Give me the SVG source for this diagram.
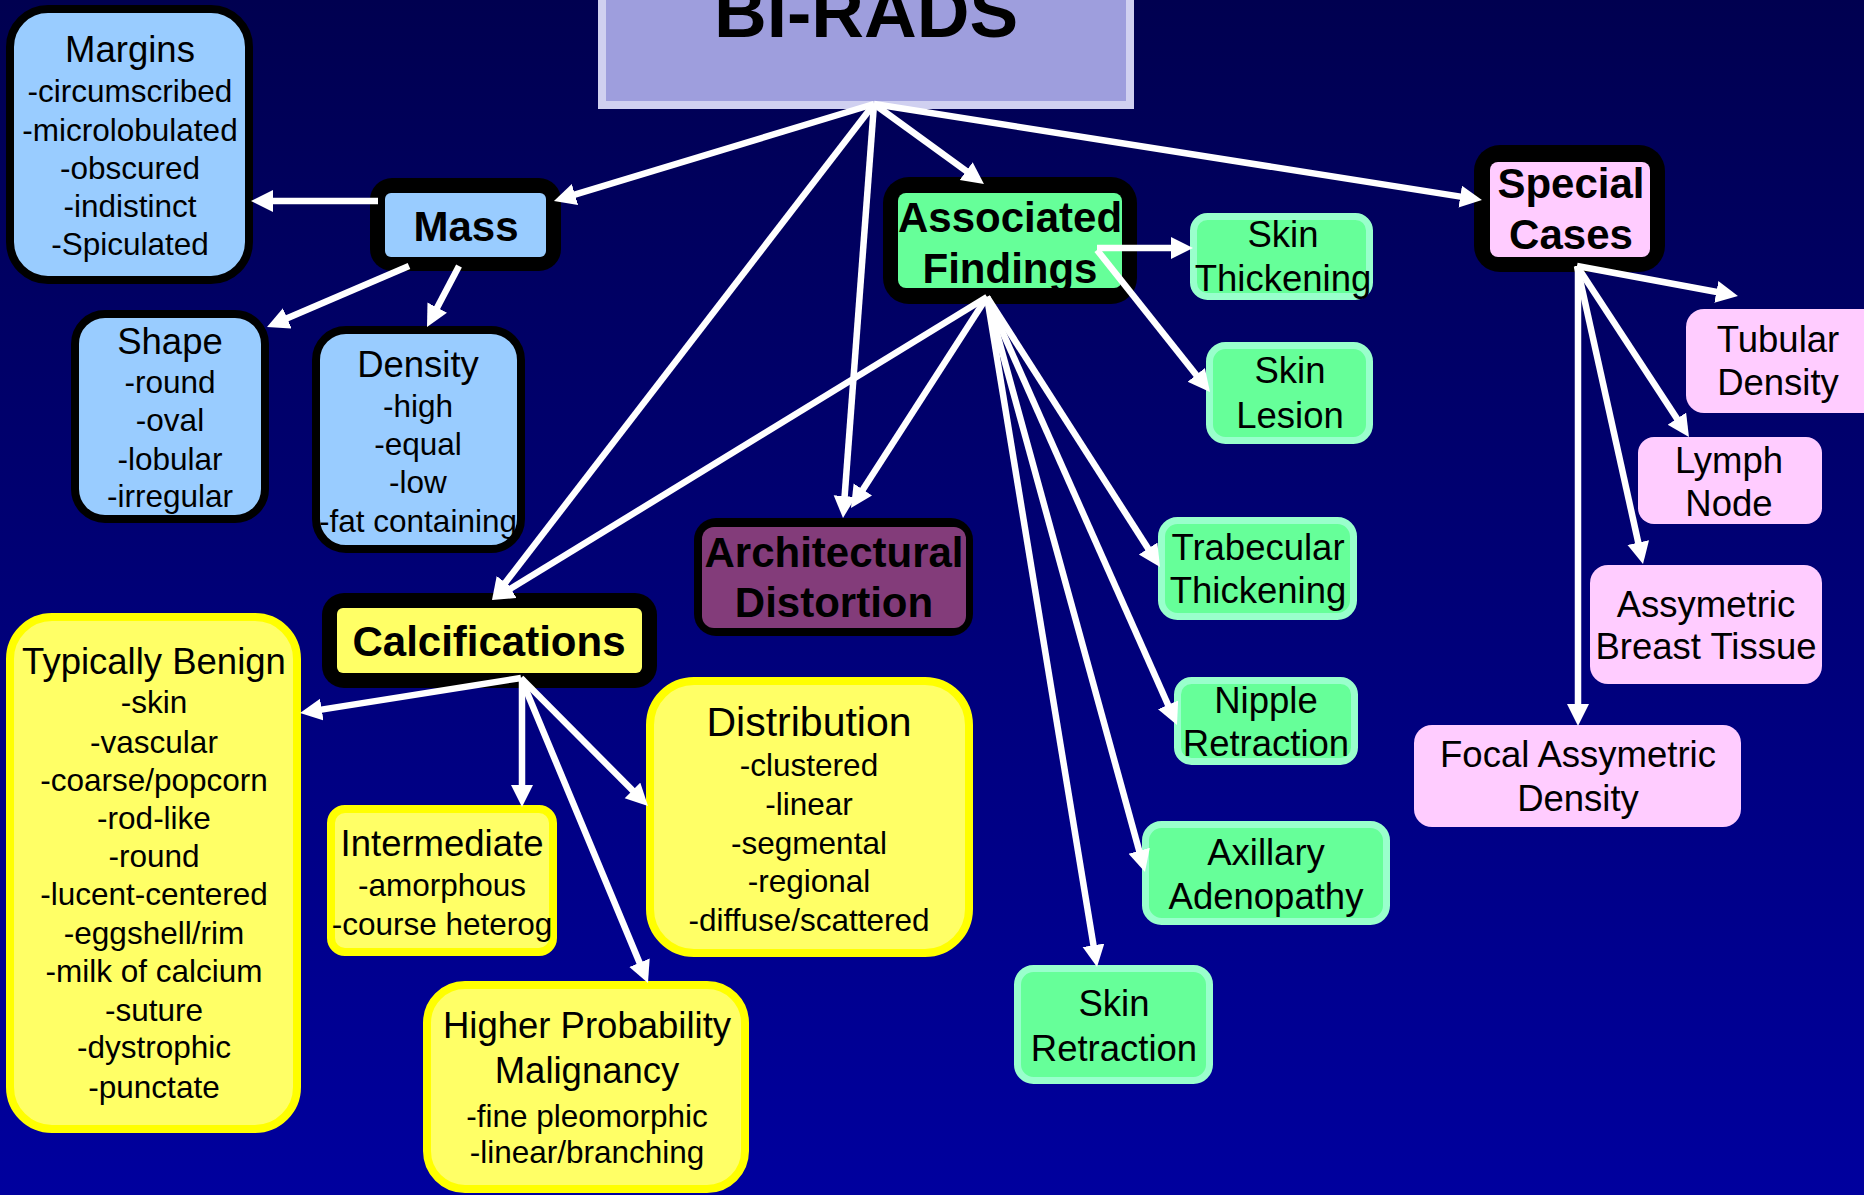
<svg xmlns="http://www.w3.org/2000/svg" width="1864" height="1195" viewBox="0 0 1864 1195">
<defs>
<linearGradient id="bg" x1="0" y1="0" x2="0" y2="1">
<stop offset="0" stop-color="#000050"/>
<stop offset="1" stop-color="#00009e"/>
</linearGradient>
<marker id="ah" markerUnits="userSpaceOnUse" markerWidth="24" markerHeight="24" refX="2" refY="11" orient="auto">
<path d="M0,0 L22,11 L0,22 z" fill="#ffffff"/>
</marker>
<style>
text{font-family:"Liberation Sans",Arial,sans-serif;text-anchor:middle;fill:#000}
.b{font-weight:bold;font-size:42px}
.h{font-size:36.5px}
.i{font-size:31.5px}
.blue{fill:#99ccff;stroke:#000;stroke-width:8}
.yel{fill:#ffff66;stroke:#ffff00;stroke-width:8}
.grn{fill:#66ff99;stroke:#99ffcc;stroke-width:7}
.pink{fill:#ffccff}
.blk{fill:#000}
.conn line{stroke:#fff;stroke-width:6.5;marker-end:url(#ah)}
</style>
</defs>
<rect x="0" y="0" width="1864" height="1195" fill="url(#bg)"/>

<g id="birads">
<rect x="602" y="-60" width="528" height="165" fill="#9e9edd" stroke="#d0d0f0" stroke-width="8"/>
<text x="866" y="37" style="font-weight:bold;font-size:73px">BI-RADS</text>
</g>

<g id="margins">
<rect class="blue" x="10" y="9" width="239" height="271" rx="38"/>
<text class="h" x="130" y="62">Margins</text>
<text class="i" x="130" y="102">-circumscribed</text>
<text class="i" x="130" y="141">-microlobulated</text>
<text class="i" x="130" y="179">-obscured</text>
<text class="i" x="130" y="217">-indistinct</text>
<text class="i" x="130" y="255">-Spiculated</text>
</g>

<g id="mass">
<rect class="blk" x="370" y="178" width="191" height="93" rx="22"/>
<rect x="385" y="193" width="161" height="64" rx="6" fill="#99ccff"/>
<text class="b" x="466" y="241">Mass</text>
</g>

<g id="shape">
<rect class="blue" x="75" y="314" width="190" height="205" rx="30"/>
<text class="h" x="170" y="354">Shape</text>
<text class="i" x="170" y="393">-round</text>
<text class="i" x="170" y="431">-oval</text>
<text class="i" x="170" y="470">-lobular</text>
<text class="i" x="170" y="507">-irregular</text>
</g>

<g id="density">
<rect class="blue" x="316" y="330" width="205" height="219" rx="30"/>
<text class="h" x="418" y="377">Density</text>
<text class="i" x="418" y="417">-high</text>
<text class="i" x="418" y="455">-equal</text>
<text class="i" x="418" y="493">-low</text>
<text class="i" x="418" y="532">-fat containing</text>
</g>

<g id="associated">
<rect class="blk" x="883" y="177" width="254" height="127" rx="26"/>
<rect x="898" y="193" width="224" height="95" rx="8" fill="#66ff99"/>
<text class="b" x="1010" y="232">Associated</text>
<text class="b" x="1010" y="283">Findings</text>
</g>

<g id="special">
<rect class="blk" x="1474" y="145" width="191" height="127" rx="26"/>
<rect x="1490" y="162" width="160" height="95" rx="8" fill="#ffccff"/>
<text class="b" x="1571" y="198">Special</text>
<text class="b" x="1571" y="249">Cases</text>
</g>

<g id="architectural">
<rect class="blk" x="694" y="518" width="279" height="118" rx="22"/>
<rect x="702" y="527" width="264" height="101" rx="12" fill="#833c7a"/>
<text class="b" x="834" y="567">Architectural</text>
<text class="b" x="834" y="617">Distortion</text>
</g>

<g id="calcifications">
<rect class="blk" x="322" y="593" width="335" height="95" rx="22"/>
<rect x="337" y="608" width="305" height="65" rx="6" fill="#ffff66"/>
<text class="b" x="489" y="656">Calcifications</text>
</g>

<g id="benign">
<rect class="yel" x="10" y="617" width="287" height="512" rx="42"/>
<text class="h" x="154" y="674">Typically Benign</text>
<text class="i" x="154" y="713">-skin</text>
<text class="i" x="154" y="753">-vascular</text>
<text class="i" x="154" y="791">-coarse/popcorn</text>
<text class="i" x="154" y="829">-rod-like</text>
<text class="i" x="154" y="867">-round</text>
<text class="i" x="154" y="905">-lucent-centered</text>
<text class="i" x="154" y="944">-eggshell/rim</text>
<text class="i" x="154" y="982">-milk of calcium</text>
<text class="i" x="154" y="1021">-suture</text>
<text class="i" x="154" y="1058">-dystrophic</text>
<text class="i" x="154" y="1098">-punctate</text>
</g>

<g id="intermediate">
<rect class="yel" x="331" y="809" width="222" height="143" rx="14"/>
<text class="h" x="442" y="856">Intermediate</text>
<text class="i" x="442" y="896">-amorphous</text>
<text class="i" x="442" y="935">-course heterog</text>
</g>

<g id="distribution">
<rect class="yel" x="650" y="681" width="319" height="272" rx="44"/>
<text x="809" y="736" style="font-size:41px">Distribution</text>
<text class="i" x="809" y="776">-clustered</text>
<text class="i" x="809" y="815">-linear</text>
<text class="i" x="809" y="854">-segmental</text>
<text class="i" x="809" y="892">-regional</text>
<text class="i" x="809" y="931">-diffuse/scattered</text>
</g>

<g id="higher">
<rect class="yel" x="427" y="985" width="318" height="204" rx="38"/>
<text class="h" x="587" y="1038">Higher Probability</text>
<text class="h" x="587" y="1083">Malignancy</text>
<text class="i" x="587" y="1127">-fine pleomorphic</text>
<text class="i" x="587" y="1163">-linear/branching</text>
</g>

<g id="skinthickening">
<rect class="grn" x="1193.5" y="216.5" width="176" height="80" rx="14"/>
<text class="h" x="1283" y="247">Skin</text>
<text class="h" x="1283" y="291">Thickening</text>
</g>

<g id="skinlesion">
<rect class="grn" x="1209.5" y="345.5" width="160" height="95" rx="16"/>
<text class="h" x="1290" y="383">Skin</text>
<text class="h" x="1290" y="428">Lesion</text>
</g>

<g id="trabecular">
<rect class="grn" x="1161.5" y="520.5" width="192" height="96" rx="16"/>
<text class="h" x="1258" y="560">Trabecular</text>
<text class="h" x="1258" y="603">Thickening</text>
</g>

<g id="nipple">
<rect class="grn" x="1177.5" y="680.5" width="177" height="81" rx="14"/>
<text class="h" x="1266" y="713">Nipple</text>
<text class="h" x="1266" y="756">Retraction</text>
</g>

<g id="axillary">
<rect class="grn" x="1145.5" y="824.5" width="241" height="97" rx="16"/>
<text class="h" x="1266" y="865">Axillary</text>
<text class="h" x="1266" y="909">Adenopathy</text>
</g>

<g id="skinretraction">
<rect class="grn" x="1017.5" y="968.5" width="192" height="112" rx="16"/>
<text class="h" x="1114" y="1016">Skin</text>
<text class="h" x="1114" y="1061">Retraction</text>
</g>

<g id="tubular">
<rect class="pink" x="1686" y="309" width="200" height="104" rx="18"/>
<text class="h" x="1778" y="352">Tubular</text>
<text class="h" x="1778" y="395">Density</text>
</g>

<g id="lymph">
<rect class="pink" x="1638" y="437" width="184" height="87" rx="16"/>
<text class="h" x="1729" y="473">Lymph</text>
<text class="h" x="1729" y="516">Node</text>
</g>

<g id="assymetric">
<rect class="pink" x="1590" y="565" width="232" height="119" rx="18"/>
<text class="h" x="1706" y="617">Assymetric</text>
<text class="h" x="1706" y="659">Breast Tissue</text>
</g>

<g id="focal">
<rect class="pink" x="1414" y="725" width="327" height="102" rx="18"/>
<text class="h" x="1578" y="767">Focal Assymetric</text>
<text class="h" x="1578" y="811">Density</text>
</g>

<g id="connectors" class="conn">
<line x1="874" y1="104" x2="573.1" y2="195.2"/>
<line x1="874" y1="104" x2="504.2" y2="584.2"/>
<line x1="874" y1="104" x2="844.5" y2="498.1"/>
<line x1="874" y1="104" x2="967.8" y2="172.2"/>
<line x1="874" y1="104" x2="1462.2" y2="196.9"/>
<line x1="378" y1="201" x2="271" y2="201"/>
<line x1="409" y1="266" x2="285.4" y2="319.1"/>
<line x1="459" y1="266" x2="436.3" y2="309.3"/>
<line x1="1097" y1="248" x2="1173" y2="248"/>
<line x1="1097" y1="250" x2="1197.5" y2="376.4"/>
<line x1="987" y1="297" x2="509.1" y2="589.6"/>
<line x1="987" y1="297" x2="861.8" y2="491.2"/>
<line x1="987" y1="297" x2="1149.2" y2="550.2"/>
<line x1="987" y1="297" x2="1168.9" y2="706.7"/>
<line x1="987" y1="297" x2="1139.7" y2="852.7"/>
<line x1="987" y1="297" x2="1093.8" y2="947.3"/>
<line x1="521" y1="678" x2="319.8" y2="709.9"/>
<line x1="522" y1="678" x2="522" y2="787"/>
<line x1="521" y1="678" x2="633.9" y2="791.8"/>
<line x1="521" y1="678" x2="640.3" y2="964.5"/>
<line x1="1577" y1="266" x2="1718.3" y2="292.3"/>
<line x1="1577" y1="266" x2="1678" y2="420.3"/>
<line x1="1577" y1="266" x2="1638.7" y2="544.5"/>
<line x1="1578" y1="266" x2="1578" y2="706"/>
</g>
</svg>
